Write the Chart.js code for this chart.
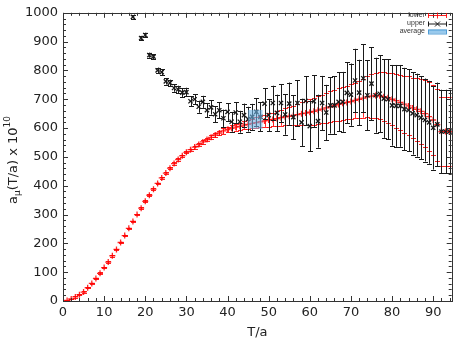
<!DOCTYPE html>
<html>
<head>
<meta charset="utf-8">
<script src="https://cdn.jsdelivr.net/npm/chart.js@4/dist/chart.umd.min.js"></script>
<style>
  html, body { margin: 0; padding: 0; background: #fff; }
  #wrap { width: 457px; height: 343px; }
</style>
</head>
<body>
<div id="wrap"><canvas id="chart"></canvas></div>
<script>
// lower bound: T/a, value, error
const lowerX = [
  0, 1, 2, 3, 4, 5, 6, 7, 8, 9, 10, 11, 12, 13, 14, 15, 16, 17, 18, 19,
  20, 21, 22, 23, 24, 25, 26, 27, 28, 29, 30, 31, 32, 33, 34, 35, 36, 37, 38, 39,
  40, 41, 42, 43, 44, 45, 46, 47, 48, 49, 50, 51, 52, 53, 54, 55, 56, 57, 58, 59,
  60, 61, 62, 63, 64, 65, 66, 67, 68, 69, 70, 71, 72, 73, 74, 75, 76, 77, 78, 79,
  80, 81, 82, 83, 84, 85, 86, 87, 88, 89, 90, 91, 92, 93, 94, 95
];
const lowerVals = [
  0, 2, 7, 14, 22, 31, 46, 61, 78, 96, 116, 135, 157, 179, 203, 227, 252, 276, 300, 322,
  346, 367, 388, 408, 427, 444, 461, 477, 491, 504, 516, 525, 534, 543, 552, 560, 568, 576, 583, 590,
  595, 599, 603, 606, 610, 613, 616, 619, 622, 625, 628, 630, 633, 636, 639, 641, 644, 647, 650, 652,
  655, 658, 662, 666, 670, 674, 678, 682, 686, 689, 692, 696, 700, 704, 708, 711, 713, 712, 709, 705,
  700, 695, 689, 683, 677, 670, 665, 658, 650, 640, 628, 612, 588, 588, 588, 588
];
const lowerErr = [
  1, 1, 1, 2, 2, 2, 2, 2, 2, 3, 3, 3, 3, 3, 3, 3, 3, 3, 3, 3,
  3, 3, 3, 3, 3, 3, 4, 4, 4, 4, 4, 4, 5, 5, 6, 6, 7, 8, 8, 9,
  10, 11, 12, 13, 14, 15, 16, 18, 19, 21, 23, 24, 26, 28, 30, 32, 34, 37, 40, 43,
  46, 47, 49, 50, 52, 53, 55, 56, 57, 58, 60, 62, 65, 68, 71, 75, 78, 81, 84, 87,
  90, 93, 96, 99, 102, 105, 109, 113, 116, 119, 122, 125, 120, 120, 120, 120
];

// upper bound
const upperX = [
  17, 19, 20, 21, 22, 23, 24, 25, 26, 27, 28, 29, 30, 31, 32, 33, 34, 35, 36, 37, 38, 39,
  40, 41, 42, 43, 44, 45, 46, 47, 48, 49, 50, 51, 52, 53, 54, 55, 56, 57, 58, 59,
  60, 61, 62, 63, 64, 65, 66, 67, 68, 69, 70, 71, 72, 73, 74, 75, 76, 77, 78, 79,
  80, 81, 82, 83, 84, 85, 86, 87, 88, 89, 90, 91, 92, 93, 94, 95
];
const upperVals = [
  986, 912, 923, 853, 848, 800, 794, 762, 757, 739, 734, 723, 725, 693, 700, 674, 691, 662, 672, 648, 662, 634,
  656, 622, 654, 622, 645, 631, 639, 656, 639, 685, 645, 687, 653, 687, 647, 685, 638, 687, 620, 694,
  607, 693, 624, 687, 654, 679, 679, 691, 691, 722, 716, 765, 723, 773, 714, 754, 714, 719, 702, 700,
  679, 677, 677, 666, 662, 651, 645, 636, 628, 620, 601, 613, 588, 588, 588, 588
];
const upperErr = [
  6, 8, 8, 9, 9, 10, 10, 11, 11, 13, 13, 15, 15, 18, 18, 21, 21, 24, 25, 27, 28, 30,
  31, 34, 36, 38, 40, 43, 45, 48, 50, 53, 56, 60, 63, 66, 70, 73, 76, 79, 82, 85,
  88, 90, 92, 94, 96, 98, 100, 102, 104, 106, 108, 110, 114, 118, 122, 126, 130, 133, 136, 138,
  140, 142, 142, 143, 143, 143, 144, 144, 144, 144, 145, 145, 145, 145, 145, 145
];

// average band
const avgX = [45, 48.5];
const avgY = [597, 663];

const xTicks = [0, 10, 20, 30, 40, 50, 60, 70, 80, 90];
const yTicks = [0, 100, 200, 300, 400, 500, 600, 700, 800, 900, 1000];

const FONT = '"DejaVu Sans", sans-serif';
const RED = 'rgba(255,0,0,0.85)';
const BLACK = '#1a1a1a';

function pts(xs, ys) {
  return xs.map((x, i) => ({ x, y: ys[i] }));
}

const errBars = {
  id: 'errBars',
  beforeDatasetDraw(chart, args) {
    const ds = chart.data.datasets[args.index];
    if (!ds.err) return;
    const { ctx, scales: { x, y }, chartArea } = chart;
    ctx.save();
    ctx.beginPath();
    ctx.rect(chartArea.left, chartArea.top, chartArea.right - chartArea.left, chartArea.bottom - chartArea.top);
    ctx.clip();
    ctx.strokeStyle = ds.barColor;
    ctx.lineWidth = 1;
    ds.data.forEach((p, i) => {
      const e = ds.err[i];
      const px = Math.round(x.getPixelForValue(p.x)) + 0.5;
      const top = y.getPixelForValue(p.y + e);
      const bot = y.getPixelForValue(p.y - e);
      ctx.beginPath();
      ctx.moveTo(px, top);
      ctx.lineTo(px, bot);
      ctx.moveTo(px - 2.5, Math.round(top) + 0.5);
      ctx.lineTo(px + 2.5, Math.round(top) + 0.5);
      ctx.moveTo(px - 2.5, Math.round(bot) + 0.5);
      ctx.lineTo(px + 2.5, Math.round(bot) + 0.5);
      ctx.stroke();
    });
    ctx.restore();
  }
};

const frame = {
  id: 'frame',
  afterDatasetsDraw(chart) {
    const { ctx, scales: { x, y }, chartArea: a } = chart;
    ctx.save();
    // average band
    const x0 = x.getPixelForValue(avgX[0]), x1 = x.getPixelForValue(avgX[1]);
    const y0 = y.getPixelForValue(avgY[1]), y1 = y.getPixelForValue(avgY[0]);
    ctx.fillStyle = 'rgba(110,180,230,0.6)';
    ctx.fillRect(x0, y0, x1 - x0, y1 - y0);

    // box and inward ticks
    ctx.strokeStyle = '#333';
    ctx.lineWidth = 1;
    ctx.strokeRect(Math.round(a.left) + 0.5, Math.round(a.top) + 0.5,
      Math.round(a.right - a.left), Math.round(a.bottom - a.top));
    ctx.beginPath();
    for (let v = 0; v <= 94; v += 2) {
      const px = Math.round(x.getPixelForValue(v)) + 0.5;
      const len = v % 10 === 0 ? 5 : 3;
      ctx.moveTo(px, a.bottom); ctx.lineTo(px, a.bottom - len);
      ctx.moveTo(px, a.top); ctx.lineTo(px, a.top + len);
    }
    for (let v = 0; v <= 1000; v += 20) {
      const py = Math.round(y.getPixelForValue(v)) + 0.5;
      const len = v % 100 === 0 ? 5 : 3;
      ctx.moveTo(a.left, py); ctx.lineTo(a.left + len, py);
      ctx.moveTo(a.right, py); ctx.lineTo(a.right - len, py);
    }
    ctx.stroke();

    // legend
    ctx.font = '7px "Liberation Sans", sans-serif';
    ctx.textAlign = 'right';
    ctx.textBaseline = 'middle';
    const lx0 = 428, lx1 = 447, lxm = 437.5;
    const rows = [15, 23.5, 31.5];
    ctx.fillStyle = '#333';
    ctx.fillText('lower', 425, rows[0]);
    ctx.fillText('upper', 425, rows[1]);
    ctx.fillText('average', 425, rows[2]);
    [[RED, rows[0]], [BLACK, rows[1]]].forEach(([c, ry]) => {
      ctx.strokeStyle = c;
      ctx.beginPath();
      ctx.moveTo(lx0, ry + 0.5); ctx.lineTo(lx1, ry + 0.5);
      ctx.moveTo(lx0 + 0.5, ry - 2); ctx.lineTo(lx0 + 0.5, ry + 3);
      ctx.moveTo(lx1 - 0.5, ry - 2); ctx.lineTo(lx1 - 0.5, ry + 3);
      ctx.stroke();
    });
    ctx.strokeStyle = RED;
    ctx.beginPath();
    ctx.moveTo(lxm, rows[0] - 2.5); ctx.lineTo(lxm, rows[0] + 3.5);
    ctx.stroke();
    ctx.strokeStyle = BLACK;
    ctx.beginPath();
    ctx.moveTo(lxm - 2.5, rows[1] - 2); ctx.lineTo(lxm + 2.5, rows[1] + 3);
    ctx.moveTo(lxm + 2.5, rows[1] - 2); ctx.lineTo(lxm - 2.5, rows[1] + 3);
    ctx.stroke();
    ctx.fillStyle = 'rgba(110,180,230,0.7)';
    ctx.fillRect(lx0, rows[2] - 2, lx1 - lx0, 4);
    ctx.strokeStyle = 'rgba(70,150,210,0.9)';
    ctx.strokeRect(lx0 + 0.5, rows[2] - 2 + 0.5, lx1 - lx0 - 1, 4);

    // axis titles
    ctx.fillStyle = '#222';
    ctx.font = '13px ' + FONT;
    ctx.textAlign = 'center';
    ctx.textBaseline = 'middle';
    ctx.fillText('T/a', (a.left + a.right) / 2, 333);

    ctx.translate(14, 160);
    ctx.rotate(-Math.PI / 2);
    const big = '13px ' + FONT, small = '9px ' + FONT;
    const parts = [['a', big, 0], ['\u03bc', small, 4], ['(T/a) x 10', big, 0], ['10', small, -6]];
    let total = 0;
    parts.forEach(([t, f]) => { ctx.font = f; total += ctx.measureText(t).width; });
    let cx = -total / 2;
    ctx.textAlign = 'left';
    parts.forEach(([t, f, dy]) => {
      ctx.font = f;
      ctx.fillText(t, cx, dy);
      cx += ctx.measureText(t).width;
    });
    ctx.restore();
  }
};

new Chart(document.getElementById('chart'), {
  type: 'scatter',
  data: {
    datasets: [
      {
        label: 'lower',
        data: pts(lowerX, lowerVals),
        err: lowerErr,
        barColor: RED,
        order: 2,
        pointStyle: 'cross',
        radius: 3,
        borderWidth: 1.3,
        borderColor: RED,
        backgroundColor: RED
      },
      {
        label: 'upper',
        data: pts(upperX, upperVals),
        err: upperErr,
        barColor: BLACK,
        order: 1,
        pointStyle: 'crossRot',
        radius: 3,
        borderWidth: 1.3,
        borderColor: BLACK,
        backgroundColor: BLACK
      }
    ]
  },
  options: {
    responsive: true,
    maintainAspectRatio: false,
    animation: false,
    layout: { padding: { top: 10, right: 5, left: 0, bottom: 0 } },
    plugins: { legend: { display: false }, tooltip: { enabled: false } },
    scales: {
      x: {
        type: 'linear',
        min: 0,
        max: 94.5,
        grid: { display: false, drawTicks: false },
        border: { display: false },
        afterBuildTicks: s => { s.ticks = xTicks.map(v => ({ value: v })); },
        afterFit: s => { s.height = 42; },
        ticks: { color: '#222', font: { family: FONT, size: 13 }, padding: 4, maxRotation: 0, autoSkip: false,
          callback: v => String(v) }
      },
      y: {
        type: 'linear',
        min: 0,
        max: 1000,
        grid: { display: false, drawTicks: false },
        border: { display: false },
        afterBuildTicks: s => { s.ticks = yTicks.map(v => ({ value: v })); },
        afterFit: s => { s.width = 63; },
        ticks: { color: '#222', font: { family: FONT, size: 13 }, padding: 5, autoSkip: false,
          callback: v => String(v) }
      }
    }
  },
  plugins: [errBars, frame]
});
</script>
</body>
</html>
